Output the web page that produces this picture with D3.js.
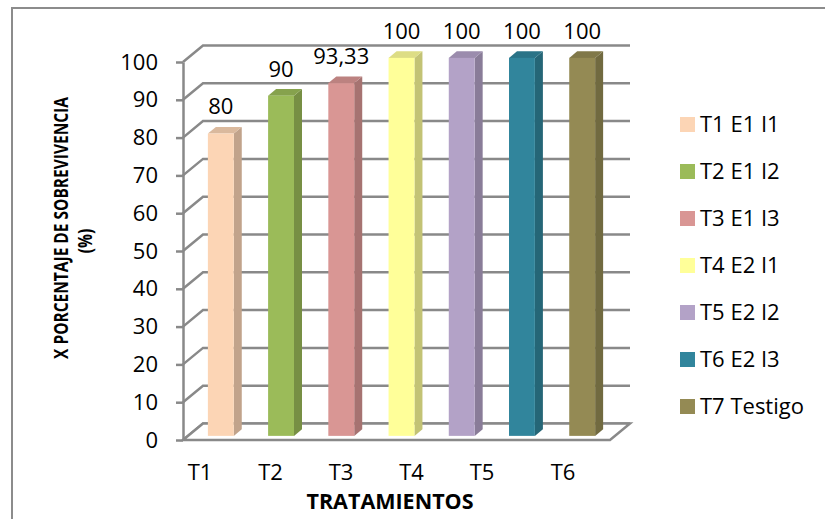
<!DOCTYPE html>
<html>
<head>
<meta charset="utf-8">
<script src="https://cdn.jsdelivr.net/npm/d3@7"></script>
<style>
  body { margin: 0; background: #fff; }
  svg text { font-family: "Open Sans", sans-serif; fill: #000; }
</style>
</head>
<body>
<div id="chart"></div>
<script>
// datos
const categories = ["T1 E1 I1", "T2 E1 I2", "T3 E1 I3", "T4 E2 I1", "T5 E2 I2", "T6 E2 I3", "T7 Testigo"];
const values = [80, 90, 93.33, 100, 100, 100, 100];
const valueLabels = ["80", "90", "93,33", "100", "100", "100", "100"];
const colors = ["#FCD5B5", "#9BBB59", "#D99694", "#FFFF99", "#B3A2C7", "#31859C", "#948A54"];
const axisLabels = ["T1", "T2", "T3", "T4", "T5", "T6"];
const yTicks = [0, 10, 20, 30, 40, 50, 60, 70, 80, 90, 100];

const width = 825, height = 519;
const grey = "#898989";
const fs = 22;

const svg = d3.select("#chart").append("svg")
    .attr("width", width)
    .attr("height", height);

// marco exterior
svg.append("path")
    .attr("d", "M12,519 V8 H825")
    .attr("fill", "none")
    .attr("stroke", "#8c8c8c")
    .attr("stroke-width", 2);

// escalas (plano frontal) + profundidad
const yF = d3.scaleLinear().domain([0, 100]).range([440, 62]);
const xF = d3.scaleBand().domain(categories).range([183, 610])
    .paddingInner(0.57).paddingOuter(0.33);
const depth = { dx: 20, dy: -16.5 };
const off = t => [depth.dx * t, depth.dy * t];

// paredes: lineas de cuadricula
const grid = svg.append("g").attr("stroke", grey).attr("stroke-width", 2.5).attr("fill", "none");
yTicks.forEach(v => {
    const [bx, by] = off(1);
    grid.append("path")
        .attr("d", `M183,${yF(v)} L${183 + bx},${yF(v) + by} H${610 + bx}`);
});

// piso
const [fx, fy] = off(1);
svg.append("path")
    .attr("d", `M183,${yF(0)} H610 L${610 + fx},${yF(0) + fy} H${183 + fx} Z`)
    .attr("fill", "#fff")
    .attr("stroke", grey)
    .attr("stroke-width", 2.5);

// eje Y
const yAxis = svg.append("g")
    .attr("transform", "translate(183,0)")
    .call(d3.axisLeft(yF).tickValues(yTicks).tickSize(7).tickSizeOuter(0).tickPadding(18));
yAxis.select(".domain").attr("stroke", grey).attr("stroke-width", 2.5);
yAxis.selectAll(".tick line").attr("stroke", grey).attr("stroke-width", 2.5);
yAxis.selectAll(".tick text")
    .attr("font-size", fs)
    .attr("font-family", "Open Sans")
    .attr("fill", "#000");

// barras 3D
const t0 = 0.25, t1 = 0.65;
const bars = svg.append("g");
categories.forEach((c, i) => {
    const [ax, ay] = off(t0);
    const [bx, by] = off(t1);
    const x0 = xF(c) + ax, x1 = x0 + xF.bandwidth();
    const yb = yF(0) + ay, yt = yF(values[i]) + ay;
    const col = d3.color(colors[i]);
    const dxy = [bx - ax, by - ay];
    // lateral
    bars.append("path")
        .attr("d", `M${x1},${yt} L${x1 + dxy[0]},${yt + dxy[1]} L${x1 + dxy[0]},${yb + dxy[1]} L${x1},${yb} Z`)
        .attr("fill", col.darker(0.75));
    // superior
    bars.append("path")
        .attr("d", `M${x0},${yt} L${x1},${yt} L${x1 + dxy[0]},${yt + dxy[1]} L${x0 + dxy[0]},${yt + dxy[1]} Z`)
        .attr("fill", col.darker(0.4));
    // frente
    bars.append("rect")
        .attr("x", x0).attr("y", yt)
        .attr("width", xF.bandwidth()).attr("height", yb - yt)
        .attr("fill", colors[i]);
    // etiqueta de valor
    svg.append("text")
        .attr("x", (x0 + x1) / 2)
        .attr("y", yt - 19)
        .attr("text-anchor", "middle")
        .attr("font-size", fs)
        .text(valueLabels[i]);
});

// etiquetas eje X
const xLab = d3.scaleLinear().domain([0, 4, 5]).range([200, 482, 563]);
svg.selectAll(".xlab")
    .data(axisLabels)
    .enter()
    .append("text")
    .attr("class", "xlab")
    .attr("x", (d, i) => xLab(i))
    .attr("y", 480)
    .attr("text-anchor", "middle")
    .attr("font-size", fs)
    .text(d => d);

// titulos
svg.append("text")
    .attr("x", 390).attr("y", 509)
    .attr("text-anchor", "middle")
    .attr("font-size", 21.5).attr("font-weight", "bold")
    .text("TRATAMIENTOS");

svg.append("text")
    .attr("transform", "translate(68,228) rotate(-90) scale(1,1.3)")
    .attr("text-anchor", "middle")
    .attr("font-size", 15.5).attr("font-weight", "bold")
    .text("X PORCENTAJE DE SOBREVIVENCIA");

svg.append("text")
    .attr("transform", "translate(92,241) rotate(-90) scale(1,1.3)")
    .attr("text-anchor", "middle")
    .attr("font-size", 15.5).attr("font-weight", "bold")
    .text("(%)");

// leyenda
const legend = svg.append("g").attr("transform", "translate(680,117)");
categories.forEach((c, i) => {
    const g = legend.append("g").attr("transform", `translate(0,${i * 47})`);
    g.append("rect").attr("width", 15).attr("height", 15).attr("fill", colors[i]);
    g.append("text").attr("x", 20).attr("y", 15).attr("font-size", fs).text(c);
});
</script>
</body>
</html>
